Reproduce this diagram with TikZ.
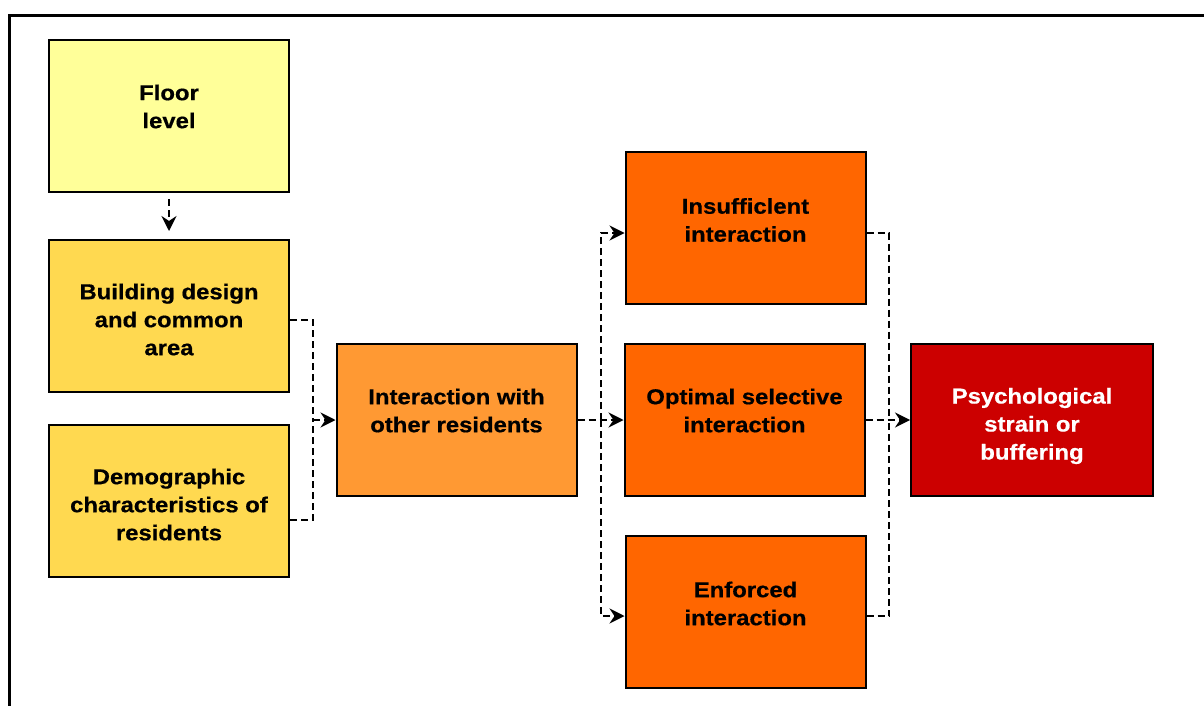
\documentclass[tikz,border=0pt]{standalone}
\usepackage{fontspec}
\setmainfont[FakeStretch=1.11, FakeBold=0.6]{Liberation Sans}
\usetikzlibrary{arrows.meta}
\definecolor{cFloor}{HTML}{FFFF99}
\definecolor{cBuild}{HTML}{FFD950}
\definecolor{cInter}{HTML}{FF9933}
\definecolor{cOrange}{HTML}{FF6600}
\definecolor{cRed}{HTML}{CC0000}
\tikzset{
  box/.style={draw=black, line width=2pt, minimum width=240pt, minimum height=152pt, inner sep=0pt},
  lbl/.style={font=\fontsize{21.5}{28}\selectfont\bfseries, align=center, inner sep=0pt},
  conn/.style={line width=1.5pt, dash pattern=on 7pt off 4pt},
  tip/.style={-{Stealth[length=15pt,width=15pt,inset=5pt]}}
}
\begin{document}
\begin{tikzpicture}[x=1pt,y=-1pt]
\useasboundingbox (0,0) rectangle (1204,706);
\clip (0,0) rectangle (1204,706);
% outer frame
\draw[line width=2.5pt] (9.5,15.5) rectangle (1240,740);

% boxes
\node[box, fill=cFloor]  (floor) at (169,116) {};
\node[box, fill=cBuild]  (build) at (169,316) {};
\node[box, fill=cBuild]  (demo)  at (169,501) {};
\node[box, fill=cInter]  (inter) at (456.5,420) {};
\node[box, fill=cOrange] (ins)   at (745.5,228) {};
\node[box, fill=cOrange] (opt)   at (744.5,420) {};
\node[box, fill=cOrange] (enf)   at (745.5,612) {};
\node[box, fill=cRed, minimum width=242pt] (psy) at (1032,420) {};

% labels
\node[lbl] (floor-t) at (169,106.5) {Floor\\level};
\node[lbl] (build-t) at (169,319.5) {Building design\\and common\\area};
\node[lbl] (demo-t)  at (169,504.5) {Demographic\\characteristics of\\residents};
\node[lbl] (inter-t) at (456.5,410.5) {Interaction with\\other residents};
\node[lbl] (ins-t)   at (745.5,220) {Insufficlent\\interaction};
\node[lbl] (opt-t)   at (744.5,410.5) {Optimal selective\\interaction};
\node[lbl] (enf-t)   at (745.5,603.5) {Enforced\\interaction};
\node[lbl, text=white] (psy-t) at (1032,426) {Psychological\\strain or\\buffering};

% connectors
\draw[conn, tip] ([yshift=-6pt]floor.south) -- ([yshift=8pt]build.north);

\coordinate (m1) at (313,420);
\draw[conn] ([yshift=-4pt]build.east) -| (m1);
\draw[conn] ([yshift=-19pt]demo.east) -| (m1);
\draw[conn, tip] (m1) -- (inter.west);

\coordinate (m2) at (601,420);
\draw[conn, tip] (inter.east) -- (opt.west);
\draw[conn, tip] (m2) |- ([yshift=-5pt]ins.west);
\draw[conn, tip] (m2) |- ([yshift=-4pt]enf.west);

\coordinate (m3) at (889,420);
\draw[conn] ([yshift=-5pt]ins.east) -| (m3);
\draw[conn] ([yshift=-4pt]enf.east) -| (m3);
\draw[conn, tip] (opt.east) -- (psy.west);
\end{tikzpicture}
\end{document}
